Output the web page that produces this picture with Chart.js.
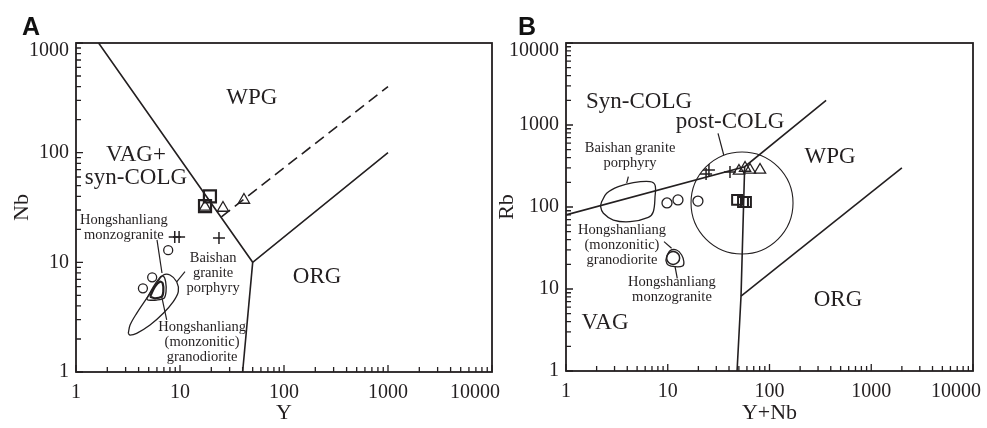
<!DOCTYPE html>
<html>
<head>
<meta charset="utf-8">
<script src="https://cdn.jsdelivr.net/npm/chart.js@4"></script>
<style>
html, body { margin: 0; padding: 0; background: #fff; }
#wrap { position: relative; width: 987px; height: 428px; overflow: hidden; }
.panel { position: absolute; top: 0; height: 428px; }
#pa { left: 0; width: 512px; }
#pb { left: 494px; width: 493px; }
.tag { position: absolute; top: 12px; line-height: 1; font: bold 25px "Liberation Sans", Arial, sans-serif; color: #111; }
</style>
</head>
<body>
<div id="wrap">
  <div class="panel" id="pa"><canvas id="chartA"></canvas></div>
  <div class="panel" id="pb"><canvas id="chartB"></canvas></div>
  <div class="tag" style="left:22px">A</div>
  <div class="tag" style="left:518px">B</div>
</div>
<script>
const FONT = '"Liberation Serif", "Times New Roman", serif';
const INK = '#231f20';

// ===== panel A : Nb vs Y =====
const aXTicks = [1, 10, 100, 1000, 10000];
const aYTicks = [1, 10, 100, 1000];

// samples
const aSquareY  = [19.4, 17.4];
const aSquareNb = [40, 32.6];
const aTriY  = [17.4, 25.9, 41.2];
const aTriNb = [32, 31.3, 37];
const aCrossY  = [8.9, 9.8, 23.7];
const aCrossNb = [17, 17, 16.7];
const aCircY  = [7.7, 5.4, 4.4];
const aCircNb = [12.9, 7.3, 5.8];

// field boundaries
const aBoundY  = [1.65, 50, 1000];
const aBoundNb = [1000, 10, 100];
const aBaseY  = [50, 40];
const aBaseNb = [10, 1];
const aDashY  = [25, 1000];
const aDashNb = [26, 400];

// outlines of earlier data
const aGdY  = [3.18, 3.31, 3.83, 4.78, 5.97, 6.91, 8.01, 9.29, 9.63, 8.62, 6.91, 5.15, 3.83, 3.31, 3.18];
const aGdNb = [2.25, 2.68, 3.43, 4.70, 6.44, 7.66, 7.66, 6.65, 5.40, 4.38, 3.43, 2.68, 2.25, 2.17, 2.25];
const aMgY  = [4.78, 5.54, 6.42, 6.91, 7.28, 7.34, 7.02, 5.97, 4.96, 4.78];
const aMgNb = [4.63, 5.99, 7.30, 7.50, 6.65, 5.40, 4.70, 4.53, 4.53, 4.63];
const aBsY  = [5.15, 5.75, 6.42, 6.82, 6.91, 6.67, 5.75, 5.15];
const aBsNb = [4.86, 5.99, 6.65, 6.44, 5.40, 4.86, 4.70, 4.86];

// leader lines
const aLeadMgY = [6.01, 6.71],  aLeadMgNb = [16.0, 7.99];
const aLeadBsY = [9.29, 11.17], aLeadBsNb = [6.65, 8.21];
const aLeadGdY = [6.67, 7.45],  aLeadGdNb = [4.86, 2.98];

const aNotes = [
    { x: 49, y: 315, text: ['WPG'], big: true },
    { x: 3.77, y: 75.5, text: ['VAG+', 'syn-COLG'], big: true },
    { x: 208, y: 7.35, text: ['ORG'], big: true },
    { x: 2.89, y: 20.5, text: ['Hongshanliang', 'monzogranite'] },
    { x: 20.8, y: 8.0, text: ['Baishan', 'granite', 'porphyry'] },
    { x: 16.3, y: 1.88, text: ['Hongshanliang', '(monzonitic)', 'granodiorite'] }
];

// ===== panel B : Rb vs Y+Nb =====
const bXTicks = [1, 10, 100, 1000, 10000];
const bYTicks = [1, 10, 100, 1000, 10000];

const bSquareX = [48, 54.9, 58.7];
const bSquareRb = [122, 115, 115];
const bTriX  = [50.1, 57.5, 64.3, 80.7];
const bTriRb = [275, 299, 283, 283];
const bCrossX  = [23.8, 25.4, 40.9];
const bCrossRb = [253, 283, 267];
const bCircX  = [9.83, 12.6, 19.8];
const bCircRb = [112, 122, 118];
const bDotX = [11.3];
const bDotRb = [23.9];

// post-COLG field
const bPostX = [53.7];
const bPostRb = [112];

const bUpperX  = [1, 57, 360];
const bUpperRb = [80, 310, 2000];
const bVertX  = [48, 52.5, 57];
const bVertRb = [1, 8.2, 310];
const bOrgX  = [52.5, 2000];
const bOrgRb = [8.2, 300];

const bBsX  = [2.24, 2.51, 3.27, 4.59, 6.69, 7.50, 7.50, 7.21, 6.44, 4.26, 2.92, 2.33, 2.19, 2.24];
const bBsRb = [116, 147, 177, 198, 204, 185, 134, 87.6, 74.9, 66.2, 69.4, 83.8, 101, 116];
const bMgX  = [9.77, 10.5, 12.2, 13.7, 14.4, 14.0, 11.8, 10.1, 9.6, 9.77];
const bMgRb = [24.8, 29.3, 29.9, 26.0, 21.5, 19.1, 18.7, 19.6, 22.1, 24.8];

const bLeadBsX = [4.10, 3.95],  bLeadBsRb = [234, 195];
const bLeadPcX = [31.2, 35.5],  bLeadPcRb = [792, 431];
const bLeadGdX = [9.19, 10.9],  bLeadGdRb = [37.8, 31.4];
const bLeadMgX = [11.8, 12.4],  bLeadMgRb = [18.7, 13.5];

const bNotes = [
    { x: 5.22, y: 1907, text: ['Syn-COLG'], big: true },
    { x: 40.9, y: 1088, text: ['post-COLG'], big: true },
    { x: 393, y: 407, text: ['WPG'], big: true },
    { x: 471, y: 7.34, text: ['ORG'], big: true },
    { x: 2.42, y: 3.85, text: ['VAG'], big: true },
    { x: 4.26, y: 419, text: ['Baishan granite', 'porphyry'] },
    { x: 3.55, y: 34.4, text: ['Hongshanliang', '(monzonitic)', 'granodiorite'] },
    { x: 11.0, y: 9.72, text: ['Hongshanliang', 'monzogranite'] }
];

// ---------- helpers ----------
const pts = (xs, ys) => xs.map((v, i) => ({ x: v, y: ys[i] }));

function line(xs, ys, extra) {
    return Object.assign({
        data: pts(xs, ys), showLine: true, borderColor: INK, borderWidth: 1.6,
        pointRadius: 0, fill: false, tension: 0
    }, extra);
}

function marks(xs, ys, style, r, extra) {
    return Object.assign({
        data: pts(xs, ys), showLine: false, pointStyle: style, pointRadius: r,
        pointBorderColor: INK, pointBackgroundColor: 'rgba(0,0,0,0)', pointBorderWidth: 1.3
    }, extra);
}

// one tick per 1..9 in every decade of the labelled range
function logTicks(labels) {
    return scale => {
        const out = [];
        labels.forEach((v, i) => {
            out.push({ value: v, major: true });
            if (i < labels.length - 1) {
                for (let k = 2; k <= 9; k++) out.push({ value: v * k, major: false });
            }
        });
        scale.ticks = out;
    };
}

// box, inward ticks, tick labels and text notes
function framePlugin(notes, xLabels, yLabels) {
    return {
        id: 'frame',
        afterDraw(chart) {
            const { ctx, chartArea: a, scales: { x, y } } = chart;
            ctx.save();
            ctx.strokeStyle = INK;
            ctx.lineWidth = 1.3;
            ctx.beginPath();
            x.ticks.forEach(t => {
                const p = x.getPixelForValue(t.value);
                ctx.moveTo(p, a.bottom);
                ctx.lineTo(p, a.bottom - (t.major ? 7 : 5));
            });
            y.ticks.forEach(t => {
                const p = y.getPixelForValue(t.value);
                ctx.moveTo(a.left, p);
                ctx.lineTo(a.left + (t.major ? 7 : 5), p);
            });
            ctx.stroke();
            ctx.lineWidth = 1.8;
            ctx.strokeRect(a.left, a.top, a.right - a.left, a.bottom - a.top);

            // tick labels: the end ones are pulled inside, like the printed figure
            ctx.fillStyle = INK;
            ctx.font = '20px ' + FONT;
            ctx.textBaseline = 'middle';
            ctx.textAlign = 'center';
            xLabels.forEach(v => {
                const s = String(v);
                const w = ctx.measureText(s).width;
                const cx = Math.min(x.getPixelForValue(v), a.right + 8 - w / 2);
                ctx.fillText(s, cx, a.bottom + 21);
            });
            ctx.textAlign = 'right';
            yLabels.forEach(v => {
                const cy = Math.max(y.getPixelForValue(v), a.top + 8);
                ctx.fillText(String(v), a.left - 7, cy);
            });

            ctx.textAlign = 'center';
            notes.forEach(n => {
                const lh = n.big ? 23 : 15;
                ctx.font = (n.big ? 23 : 14.5) + 'px ' + FONT;
                const px = x.getPixelForValue(n.x);
                const top = y.getPixelForValue(n.y) - (n.text.length - 1) * lh / 2;
                n.text.forEach((t, i) => ctx.fillText(t, px, top + i * lh));
            });
            ctx.restore();
        }
    };
}

function axis(labels, title, isX, size, titlePad) {
    return {
        type: 'logarithmic',
        min: labels[0],
        max: labels[labels.length - 1],
        afterBuildTicks: logTicks(labels),
        afterFit: s => {
            if (isX) { s.height = size; s.paddingLeft = 0; s.paddingRight = 0; }
            else { s.width = size; s.paddingTop = 0; s.paddingBottom = 0; }
        },
        grid: { display: false, drawTicks: false },
        border: { display: false },
        ticks: { display: false, autoSkip: false },
        title: {
            display: true, text: title, color: INK,
            font: { family: FONT, size: 22 },
            padding: { top: titlePad, bottom: titlePad }
        }
    };
}

function makeChart(id, datasets, notes, ax, labels, padRight) {
    return new Chart(document.getElementById(id), {
        type: 'scatter',
        data: { datasets },
        options: {
            responsive: true,
            maintainAspectRatio: false,
            animation: false,
            events: [],
            layout: { autoPadding: false, padding: { top: 43, left: 0, right: padRight, bottom: 0 } },
            plugins: { legend: { display: false }, tooltip: { enabled: false } },
            scales: ax
        },
        plugins: [framePlugin(notes, labels[0], labels[1])]
    });
}

makeChart('chartA', [
    line(aBoundY, aBoundNb),
    line(aBaseY, aBaseNb),
    line(aDashY, aDashNb, { borderDash: [11, 6] }),
    line(aGdY, aGdNb, { tension: 0.35, borderWidth: 1.3 }),
    line(aMgY, aMgNb, { tension: 0.3, borderWidth: 1.3 }),
    line(aBsY, aBsNb, { tension: 0.3, borderWidth: 2.2 }),
    line(aLeadMgY, aLeadMgNb, { borderWidth: 1.2 }),
    line(aLeadBsY, aLeadBsNb, { borderWidth: 1.2 }),
    line(aLeadGdY, aLeadGdNb, { borderWidth: 1.2 }),
    marks(aSquareY, aSquareNb, 'rect', 8.5, { pointBorderWidth: 2.2 }),
    marks(aTriY, aTriNb, 'triangle', 6.5),
    marks(aCrossY, aCrossNb, 'cross', 6, { pointBorderWidth: 1.5 }),
    marks(aCircY, aCircNb, 'circle', 4.5)
], aNotes, {
    x: axis(aXTicks, 'Y', true, 56, 2),
    y: axis(aYTicks, 'Nb', false, 76, 9)
}, [aXTicks, aYTicks], 20);

makeChart('chartB', [
    line(bUpperX, bUpperRb),
    line(bVertX, bVertRb),
    line(bOrgX, bOrgRb),
    line(bBsX, bBsRb, { tension: 0.35, borderWidth: 1.3 }),
    line(bMgX, bMgRb, { tension: 0.35, borderWidth: 1.3 }),
    line(bLeadBsX, bLeadBsRb, { borderWidth: 1.2 }),
    line(bLeadPcX, bLeadPcRb, { borderWidth: 1.2 }),
    line(bLeadGdX, bLeadGdRb, { borderWidth: 1.2 }),
    line(bLeadMgX, bLeadMgRb, { borderWidth: 1.2 }),
    marks(bPostX, bPostRb, 'circle', 51, { pointBorderWidth: 1.1 }),
    marks(bSquareX, bSquareRb, 'rect', 7, { pointBorderWidth: 2 }),
    marks(bTriX, bTriRb, 'triangle', 6.5),
    marks(bCrossX, bCrossRb, 'cross', 6, { pointBorderWidth: 1.5 }),
    marks(bCircX, bCircRb, 'circle', 5),
    marks(bDotX, bDotRb, 'circle', 6.5, { pointBorderWidth: 1.5 })
], bNotes, {
    x: axis(bXTicks, 'Y+Nb', true, 57, 2),
    y: axis(bYTicks, 'Rb', false, 72, 0)
}, [bXTicks, bYTicks], 14);
</script>
</body>
</html>
